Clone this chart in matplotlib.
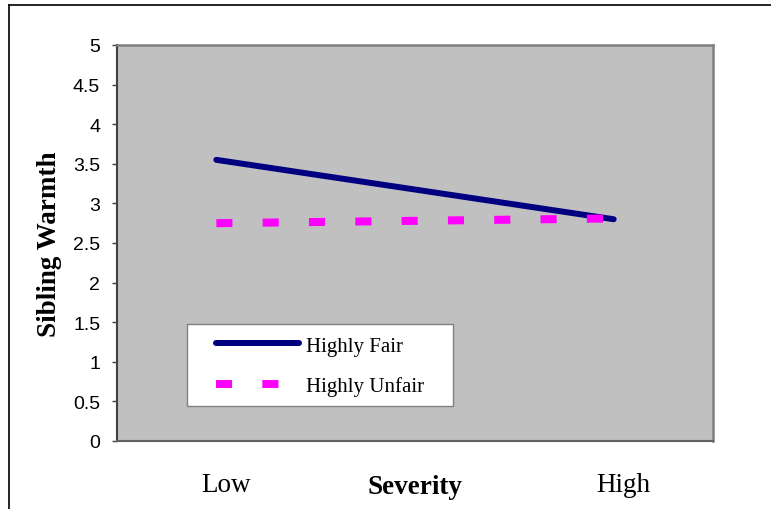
import matplotlib.pyplot as plt
from matplotlib.lines import Line2D
from matplotlib.patches import Rectangle
from matplotlib.transforms import ScaledTranslation

# data
severity = ['Low', 'High']
fair = [3.55, 2.80]
unfair = [2.75, 2.81]
y_ticks = [0, 0.5, 1, 1.5, 2, 2.5, 3, 3.5, 4, 4.5, 5]

serif = 'Liberation Serif'
sans = 'Liberation Sans'

fig = plt.figure(figsize=(7.71, 5.10), dpi=100)
ax = fig.add_axes([117/771, 1 - 442/510, 596/771, 396/510])
ax.set_facecolor('#C0C0C0')

x = list(range(len(severity)))
ax.plot(x, fair, color='#000080', lw=4.3, solid_capstyle='round', label='Highly Fair')
ax.plot(x, unfair, color='#FF00FF', lw=5.8, dashes=(2, 3.75), dash_capstyle='butt',
        label='Highly Unfair')

ax.set_xlim(-0.25, 1.25)
ax.set_ylim(0, 5)
ax.set_yticks(y_ticks)
ax.set_yticklabels([('%g' % v) for v in y_ticks], fontfamily=sans, fontsize=14)
ax.tick_params(axis='y', direction='out', length=3.6, width=1, color='#404040', pad=8.5)

ax.set_xticks(x)
ax.set_xticklabels(severity, fontfamily=serif, fontsize=19.5)
ax.tick_params(axis='x', length=0, pad=22.5)
offset = ScaledTranslation(10/100, 0, fig.dpi_scale_trans)
for lab in ax.get_xticklabels():
    lab.set_transform(lab.get_transform() + offset)

ax.set_xlabel('Severity', fontfamily=serif, fontsize=19.5, fontweight='bold')
ax.xaxis.set_label_coords(0.5, -0.083)
ax.set_ylabel('Sibling Warmth', fontfamily=serif, fontsize=19.5, fontweight='bold')
ax.yaxis.set_label_coords(-0.093, 0.5)

for side in ['top', 'right']:
    ax.spines[side].set_color('#808080')
    ax.spines[side].set_linewidth(1.8)
ax.spines['left'].set_color('#404040')
ax.spines['left'].set_linewidth(1.5)
ax.spines['bottom'].set_color('#606060')
ax.spines['bottom'].set_linewidth(1.5)

# legend box
ax.add_patch(Rectangle((70/596, 35/396), 266/596, 82/396, transform=ax.transAxes,
                       facecolor='white', edgecolor='#808080', lw=1, zorder=3))
leg = ax.legend(loc='upper left', bbox_to_anchor=(99/596, 105/396), frameon=False,
                borderpad=0, borderaxespad=0, handlelength=4.0, handletextpad=0.3,
                labelspacing=0.99, prop={'family': serif, 'size': 15})
leg.set_zorder(4)

# outer frame (left and top edges)
fig.add_artist(Line2D([9/771, 9/771], [0, 1 - 6/510], color='black', lw=1.2))
fig.add_artist(Line2D([9/771, 1], [1 - 6/510, 1 - 6/510], color='black', lw=1.2))

plt.savefig('out.png', dpi=100)
